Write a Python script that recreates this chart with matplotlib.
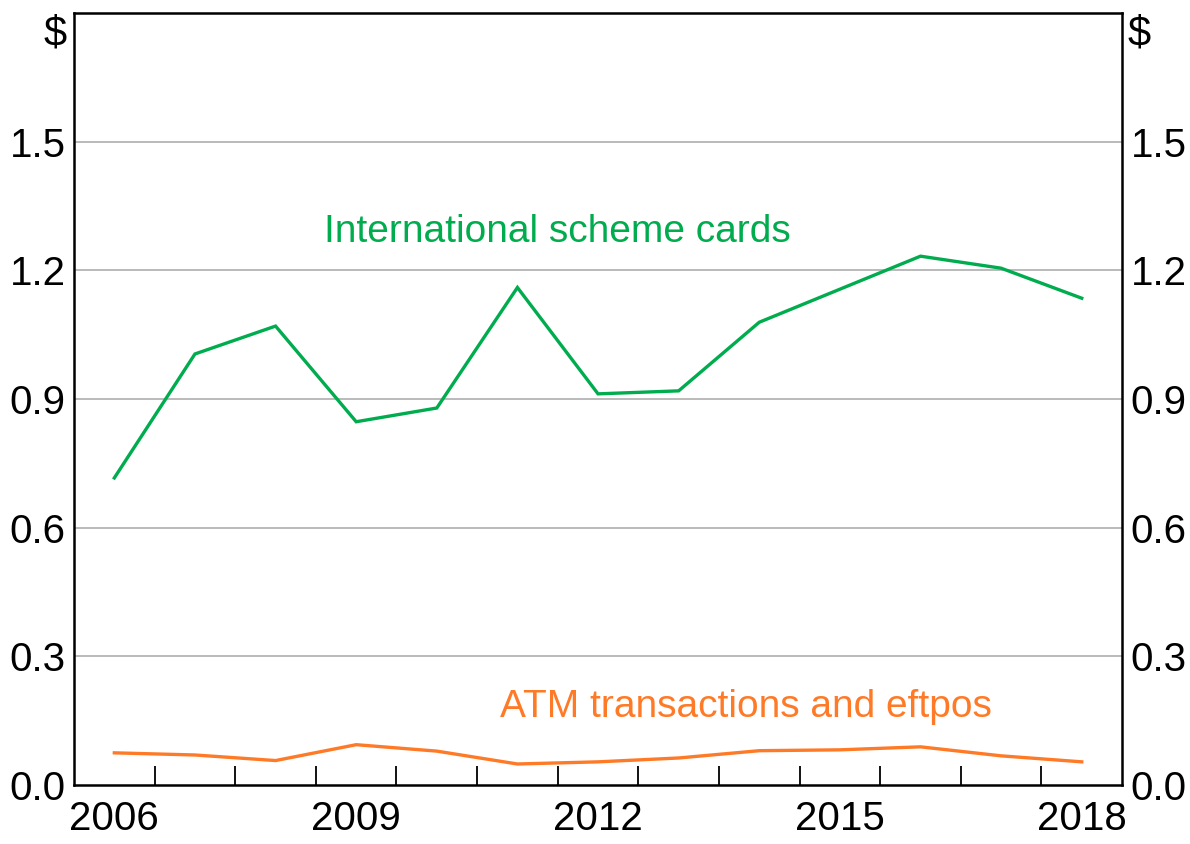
#!/usr/bin/env python3
"""Fee per transaction: international scheme cards vs ATM/eftpos."""
import numpy as np
import matplotlib
matplotlib.use('Agg')
import matplotlib.pyplot as plt
from matplotlib.ticker import FixedLocator, NullFormatter
from matplotlib import font_manager

years = [2006, 2007, 2008, 2009, 2010, 2011, 2012, 2013, 2014, 2015, 2016, 2017, 2018]
intl_scheme = [0.716, 1.005, 1.070, 0.847, 0.879, 1.160, 0.912, 0.919, 1.079, 1.156, 1.233, 1.205, 1.135]
atm_eftpos = [0.075, 0.070, 0.057, 0.094, 0.079, 0.049, 0.054, 0.063, 0.080, 0.082, 0.089, 0.068, 0.054]
y_ticks = [0.0, 0.3, 0.6, 0.9, 1.2, 1.5]
x_labels = [2006, 2009, 2012, 2015, 2018]

COL = {'green': '#00AC4E', 'orange': '#FF7A27', 'grid': '#B4B4B4'}

names = {f.name for f in font_manager.fontManager.ttflist}
FONT = 'Liberation Sans Narrow' if 'Liberation Sans Narrow' in names else 'Liberation Sans'


def main():
    plt.rcParams.update({'font.family': [FONT, 'DejaVu Sans'], 'font.size': 30})
    fig = plt.figure(figsize=(11.9, 8.44), dpi=100, facecolor='white')
    ax = fig.add_axes([0.0622, 0.0699, 0.9429 - 0.0622, 0.9846 - 0.0699])

    x = np.array(years) + 0.5
    ax.plot(x, intl_scheme, color=COL['green'], lw=2.4, solid_joinstyle='miter')
    ax.plot(x, atm_eftpos, color=COL['orange'], lw=2.4, solid_joinstyle='miter')

    ax.set_xlim(years[0], years[-1] + 1)
    ax.set_ylim(0, 1.8)

    # y axis: labels on both sides, no tick marks
    ax.set_yticks(y_ticks, [f'{v:.1f}' for v in y_ticks])
    ax.tick_params(axis='y', which='both', length=0, pad=6, left=True, right=True,
                   labelleft=True, labelright=True, labelsize=29)
    for v in y_ticks[1:]:
        ax.axhline(v, color=COL['grid'], lw=1.3, zorder=0)

    # x axis: year boundaries as inward ticks, labels at mid-year
    ax.xaxis.set_minor_locator(FixedLocator(np.arange(years[0] + 1, years[-1] + 1)))
    ax.xaxis.set_minor_formatter(NullFormatter())
    ax.set_xticks(np.array(x_labels) + 0.5, [str(v) for v in x_labels])
    ax.tick_params(axis='x', which='major', length=0, pad=11, labelsize=29)
    ax.tick_params(axis='x', which='minor', direction='in', length=14, width=1.3, color='black')

    for sp in ax.spines.values():
        sp.set_linewidth(1.8)
        sp.set_color('black')

    ax.text(-0.007, 0.972, '$', transform=ax.transAxes, ha='right', va='center', fontsize=30)
    ax.text(1.005, 0.972, '$', transform=ax.transAxes, ha='left', va='center', fontsize=30)

    ax.text(2012.0, 1.267, 'International scheme cards', color=COL['green'],
            ha='center', va='baseline', fontsize=28)
    ax.text(2014.34, 0.159, 'ATM transactions and eftpos', color=COL['orange'],
            ha='center', va='baseline', fontsize=28)

    fig.savefig('out.png', dpi=100, facecolor='white')
    plt.close(fig)


if __name__ == '__main__':
    main()
